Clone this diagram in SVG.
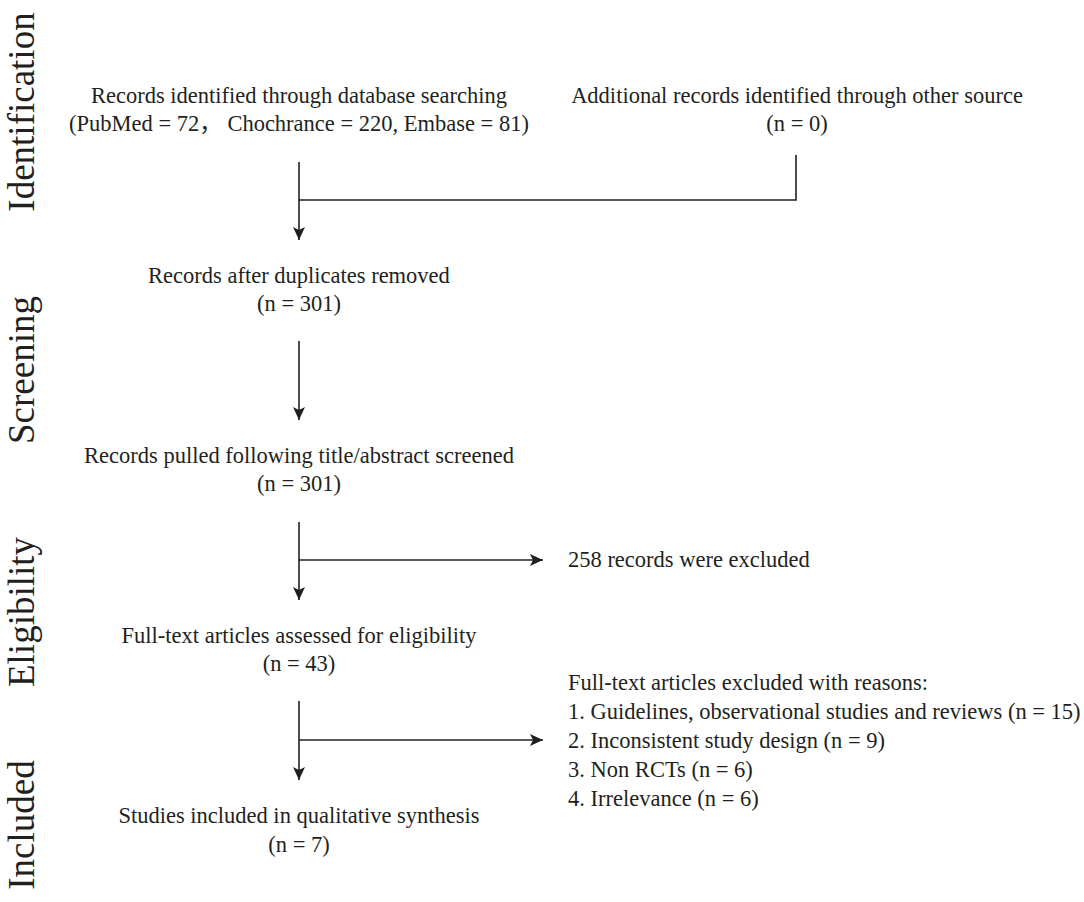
<svg xmlns="http://www.w3.org/2000/svg" width="1084" height="902" viewBox="0 0 1084 902">
<style>
text{font-family:"Liberation Serif","Noto Sans CJK SC",serif;fill:#231f20}
.t{font-size:22.5px;text-anchor:middle}
.l{font-size:22.5px;text-anchor:start}
.side{font-size:37px;text-anchor:middle}
.c{stroke:#231f20;stroke-width:1.6;fill:none}
</style>
<defs>
<marker id="ah" markerUnits="userSpaceOnUse" markerWidth="14" markerHeight="14" viewBox="0 0 14 14" refX="13" refY="7" orient="auto">
<path d="M0,1 L13,7 L0,13 L3,7 z" fill="#231f20"/>
</marker>
</defs>
<rect width="1084" height="902" fill="#fff"/>
<g id="stages">
<text class="side" transform="translate(34,112) rotate(-90)">Identification</text>
<text class="side" transform="translate(34,370) rotate(-90)">Screening</text>
<text class="side" transform="translate(34,612) rotate(-90)">Eligibility</text>
<text class="side" transform="translate(34,825) rotate(-90)">Included</text>
</g>
<g id="n1">
<text class="t" x="299" y="103">Records identified through database searching</text>
<text class="t" x="299" y="131">(PubMed = 72， Chochrance = 220, Embase = 81)</text>
</g>
<g id="n1b">
<text class="t" x="797" y="103">Additional records identified through other source</text>
<text class="t" x="797" y="131">(n = 0)</text>
</g>
<g id="n2">
<text class="t" x="299" y="283">Records after duplicates removed</text>
<text class="t" x="299" y="311">(n = 301)</text>
</g>
<g id="n3">
<text class="t" x="299" y="463">Records pulled following title/abstract screened</text>
<text class="t" x="299" y="491">(n = 301)</text>
</g>
<g id="x1">
<text class="l" x="568" y="567">258 records were excluded</text>
</g>
<g id="n4">
<text class="t" x="299" y="643">Full-text articles assessed for eligibility</text>
<text class="t" x="299" y="671">(n = 43)</text>
</g>
<g id="x2">
<text class="l" x="568" y="690">Full-text articles excluded with reasons:</text>
<text class="l" x="568" y="719">1. Guidelines, observational studies and reviews (n = 15)</text>
<text class="l" x="568" y="748">2. Inconsistent study design (n = 9)</text>
<text class="l" x="568" y="777">3. Non RCTs (n = 6)</text>
<text class="l" x="568" y="806">4. Irrelevance (n = 6)</text>
</g>
<g id="n5">
<text class="t" x="299" y="823">Studies included in qualitative synthesis</text>
<text class="t" x="299" y="852">(n = 7)</text>
</g>
<g id="connectors">
<line class="c" x1="299" y1="162" x2="299" y2="240" marker-end="url(#ah)"/>
<polyline class="c" points="796,155 796,200 299,200"/>
<line class="c" x1="299" y1="341" x2="299" y2="420" marker-end="url(#ah)"/>
<line class="c" x1="299" y1="522" x2="299" y2="600" marker-end="url(#ah)"/>
<line class="c" x1="299" y1="560" x2="543" y2="560" marker-end="url(#ah)"/>
<line class="c" x1="299" y1="701" x2="299" y2="780" marker-end="url(#ah)"/>
<line class="c" x1="299" y1="740" x2="543" y2="740" marker-end="url(#ah)"/>
</g>
</svg>
